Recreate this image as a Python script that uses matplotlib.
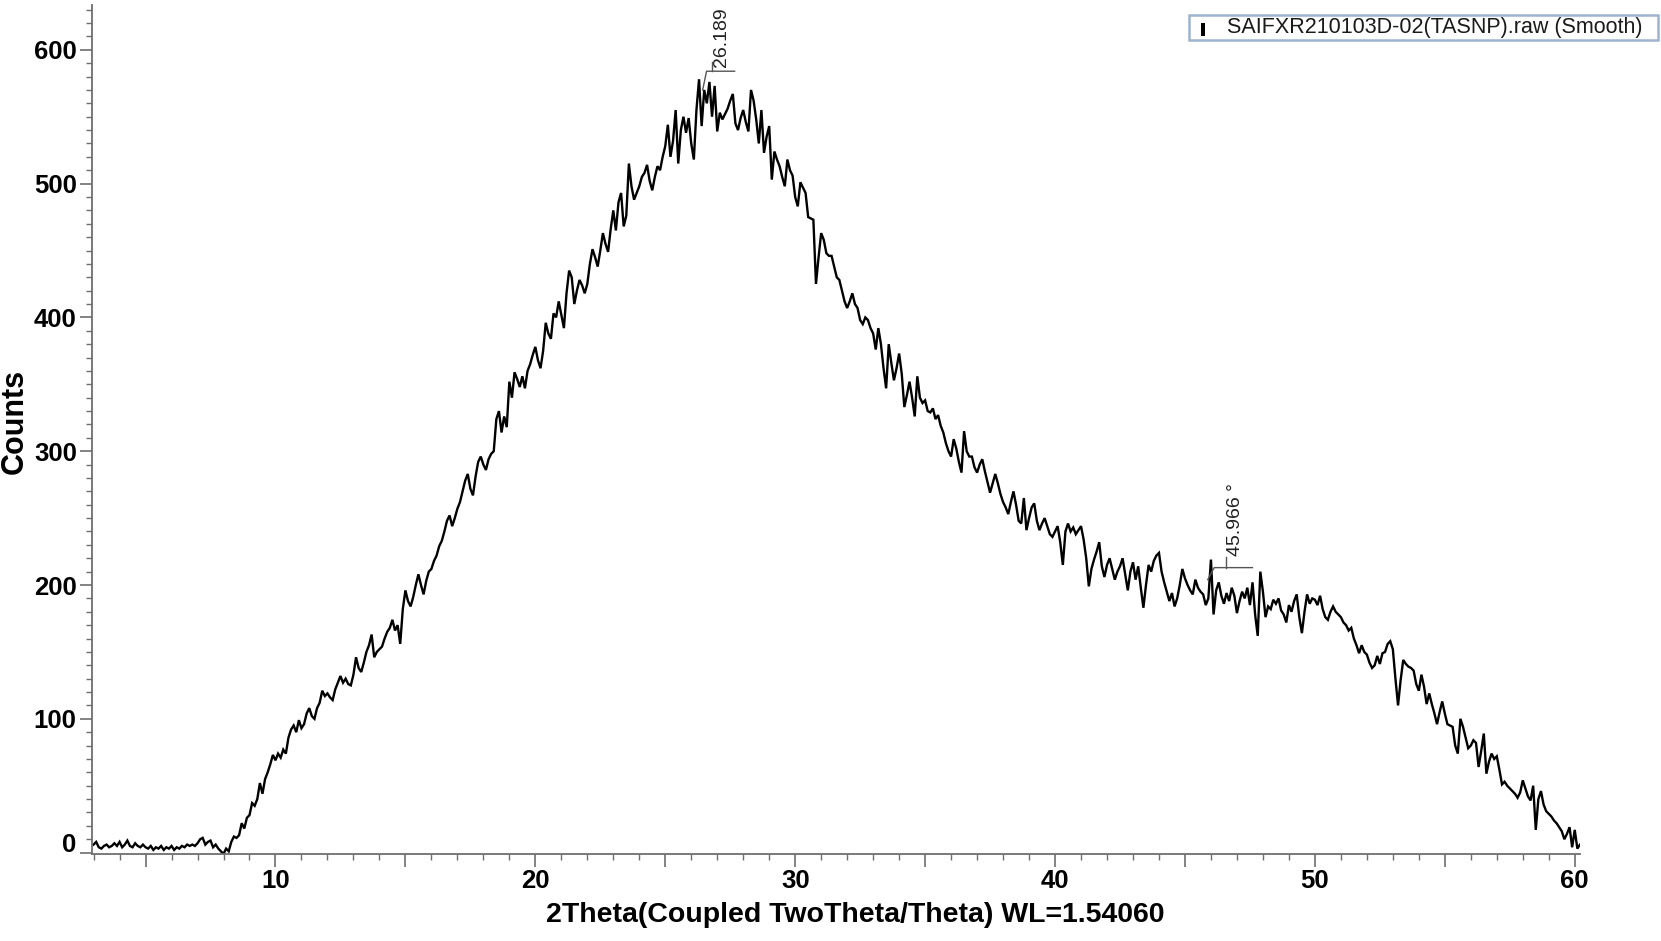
import matplotlib
matplotlib.use("Agg")
import matplotlib.pyplot as plt
import matplotlib.transforms as mtrans
from matplotlib import font_manager
from matplotlib.patches import Rectangle
from matplotlib.ticker import MultipleLocator, FuncFormatter

# scan grid (2theta start / step) and smoothed counts
TTH_START = 3.0
TTH_STEP = 0.1
COUNTS = [
    6, 8, 4, 3, 5, 6, 4, 5, 7, 5,                      # 3
    8, 4, 6, 9, 5, 4, 7, 5, 4, 6,                      # 4
    4, 3, 5, 2, 4, 3, 5, 2, 4, 3,                      # 5
    5, 2, 4, 3, 5, 4, 6, 5, 6, 5,                      # 6
    7, 10, 11, 6, 8, 9, 4, 6, 3, 1,                    # 7
    -1, 3, 1, 8, 12, 11, 13, 22, 18, 26,               # 8
    28, 37, 35, 40, 52, 44, 55, 60, 66, 73,            # 9
    69, 74, 71, 77, 74, 86, 92, 95, 90, 99,            # 10
    93, 96, 104, 108, 102, 100, 108, 112, 121, 117,    # 11
    119, 116, 114, 122, 127, 132, 127, 130, 126, 125,  # 12
    133, 146, 138, 135, 142, 150, 155, 163, 146, 150,  # 13
    152, 154, 160, 165, 168, 174, 166, 170, 156, 182,  # 14
    196, 188, 184, 191, 200, 208, 200, 193, 203, 210,  # 15
    212, 218, 222, 229, 233, 240, 248, 252, 244, 250,  # 16
    257, 262, 270, 278, 283, 272, 267, 281, 292, 296,  # 17
    290, 286, 294, 298, 300, 324, 330, 314, 326, 318,  # 18
    352, 340, 359, 354, 348, 356, 347, 360, 365, 372,  # 19
    378, 368, 362, 375, 396, 388, 384, 403, 400, 412,  # 20
    402, 392, 418, 435, 430, 410, 420, 428, 424, 418,  # 21
    425, 440, 451, 445, 438, 450, 463, 455, 449, 466,  # 22
    480, 465, 486, 493, 468, 476, 515, 498, 488, 493,  # 23
    498, 505, 508, 514, 502, 495, 505, 513, 510, 520,  # 24
    528, 544, 520, 532, 555, 515, 540, 550, 538, 549,  # 25
    530, 518, 555, 578, 543, 570, 560, 576, 550, 573,  # 26
    539, 553, 548, 552, 556, 562, 567, 545, 540, 549,  # 27
    555, 546, 539, 570, 562, 548, 530, 555, 523, 535,  # 28
    543, 503, 524, 518, 513, 505, 498, 518, 510, 506,  # 29
    490, 483, 501, 497, 493, 475, 474, 473, 425, 445,  # 30
    463, 458, 448, 446, 446, 438, 430, 428, 420, 412,  # 31
    407, 412, 418, 410, 407, 398, 395, 400, 398, 392,  # 32
    388, 376, 392, 380, 362, 347, 380, 366, 353, 362,  # 33
    373, 358, 333, 342, 352, 340, 326, 356, 340, 336,  # 34
    338, 330, 329, 332, 324, 327, 319, 314, 306, 300,  # 35
    296, 309, 302, 292, 284, 315, 300, 296, 296, 288,  # 36
    284, 290, 294, 285, 277, 269, 276, 283, 276, 268,  # 37
    262, 258, 253, 262, 270, 260, 248, 246, 265, 241,  # 38
    250, 258, 261, 248, 241, 246, 250, 244, 238, 236,  # 39
    240, 244, 232, 215, 240, 246, 240, 243, 238, 241,  # 40
    244, 234, 220, 199, 212, 219, 225, 232, 214, 206,  # 41
    215, 220, 212, 204, 210, 214, 220, 208, 196, 210,  # 42
    217, 204, 214, 198, 183, 200, 215, 210, 218, 222,  # 43
    224, 210, 202, 195, 188, 194, 184, 190, 200, 212,  # 44
    205, 200, 196, 193, 204, 198, 195, 193, 185, 190,  # 45
    219, 178, 196, 202, 192, 186, 194, 188, 198, 192,  # 46
    179, 188, 195, 190, 198, 185, 202, 178, 162, 210,  # 47
    195, 176, 184, 182, 189, 186, 190, 181, 178, 172,  # 48
    185, 180, 188, 193, 176, 164, 180, 193, 186, 190,  # 49
    189, 185, 192, 182, 176, 174, 180, 184, 180, 178,  # 50
    176, 172, 170, 166, 168, 160, 155, 149, 155, 150,  # 51
    148, 142, 138, 140, 147, 141, 149, 150, 156, 158,  # 52
    152, 130, 110, 129, 144, 141, 139, 138, 136, 126,  # 53
    121, 133, 124, 111, 119, 111, 104, 96, 105, 113,   # 54
    104, 96, 95, 94, 80, 74, 100, 94, 86, 78,          # 55
    80, 84, 82, 64, 76, 89, 59, 68, 74, 70,            # 56
    72, 62, 51, 53, 50, 48, 46, 44, 41, 45,            # 57
    54, 48, 42, 39, 50, 17, 40, 46, 36, 31,            # 58
    29, 27, 24, 22, 19, 16, 10, 14, 19, 4,             # 59
    17, 3, 6,                                          # 60
]
TTH = [TTH_START + i * TTH_STEP for i in range(len(COUNTS))]

PEAK_POS = [26.189, 45.966]
PEAK_LABELS = ["26.189", "45.966 \u00b0"]
PEAK_COUNTS = [578, 219]

SERIES_NAME = "SAIFXR210103D-02(TASNP).raw (Smooth)"
XLABEL = "2Theta(Coupled TwoTheta/Theta) WL=1.54060"
YLABEL = "Counts"

names = {f.name for f in font_manager.fontManager.ttflist}
NARROW = "Liberation Sans Narrow" if "Liberation Sans Narrow" in names else "Liberation Sans"
plt.rcParams["font.family"] = ["Liberation Sans", "DejaVu Sans"]

fig = plt.figure(figsize=(16.61, 9.41), dpi=100)
ax = fig.add_axes([0.0554, 0.0925, 0.8958, 0.9022])

ax.plot(TTH, COUNTS, color="black", lw=1.7, solid_joinstyle="miter")

ax.set_xlim(2.94, 60.2)
ax.set_ylim(-1, 633.5)

for side in ("top", "right"):
    ax.spines[side].set_visible(False)
for side in ("left", "bottom"):
    ax.spines[side].set_color("#6e6e6e")
    ax.spines[side].set_linewidth(1.3)

ax.xaxis.set_major_locator(MultipleLocator(5))
ax.xaxis.set_minor_locator(MultipleLocator(1))
ax.xaxis.set_major_formatter(FuncFormatter(lambda v, p: f"{v:.0f}" if round(v) % 10 == 0 else ""))
ax.yaxis.set_major_locator(MultipleLocator(100))
ax.yaxis.set_minor_locator(MultipleLocator(10))
ax.tick_params(which="major", length=9, width=1.2, color="#6e6e6e", pad=2)
ax.tick_params(which="minor", length=4.5, width=1.0, color="#6e6e6e")
for lab in ax.get_xticklabels() + ax.get_yticklabels():
    lab.set_fontfamily(NARROW)
    lab.set_fontweight("bold")
    lab.set_fontsize(18.5)

# the "0" label sits a little above its tick
zero = ax.yaxis.get_major_ticks()[1] if ax.get_yticks()[0] < 0 else ax.yaxis.get_major_ticks()[0]
zero.label1.set_transform(zero.label1.get_transform()
                          + mtrans.ScaledTranslation(0, 10 / 100, fig.dpi_scale_trans))

ax.set_xlabel(XLABEL, fontfamily=NARROW, fontweight="bold", fontsize=20.5)
ax.xaxis.set_label_coords(0.513, -0.057)
ax.set_ylabel(YLABEL, fontfamily=NARROW, fontweight="bold", fontsize=22)
ax.yaxis.set_label_coords(-0.042, 0.51)

# peak markers: leader, bracket and rotated label
LEADERS = [  # (dx0, dy0, dx1, dy1, horiz end dx, bar dx, bar top dy, text dx, text dy)
    (0.25, -8, 0.40, 6, 1.48, 0.61, 13, 0.64, 9),
    (-0.09, -15, 0.16, -6, 1.63, 0.62, 2, 0.66, 3),
]
for pk, lab, yc, ld in zip(PEAK_POS, PEAK_LABELS, PEAK_COUNTS, LEADERS):
    dx0, dy0, dx1, dy1, hx, bx, by, tx, ty = ld
    ax.plot([pk + dx0, pk + dx1, pk + hx], [yc + dy0, yc + dy1, yc + dy1],
            color="#555555", lw=1.0)
    ax.plot([pk + bx, pk + bx], [yc + dy1, yc + by], color="#555555", lw=1.0)
    ax.text(pk + tx, yc + ty, lab, rotation=90, ha="left", va="bottom",
            fontsize=14, color="#222222")

# series box at the top right
fig.patches.append(Rectangle((0.7158, 0.9572), 0.2824, 0.0271, transform=fig.transFigure,
                             facecolor="white", edgecolor="#9db3cf", lw=1.8))
fig.patches.append(Rectangle((0.7232, 0.9617), 0.0022, 0.0140, transform=fig.transFigure,
                             facecolor="black", edgecolor="none"))
fig.text(0.7385, 0.9708, SERIES_NAME, ha="left", va="center", fontsize=15.5, color="#1a1a1a")

fig.savefig("out.png", dpi=100)
